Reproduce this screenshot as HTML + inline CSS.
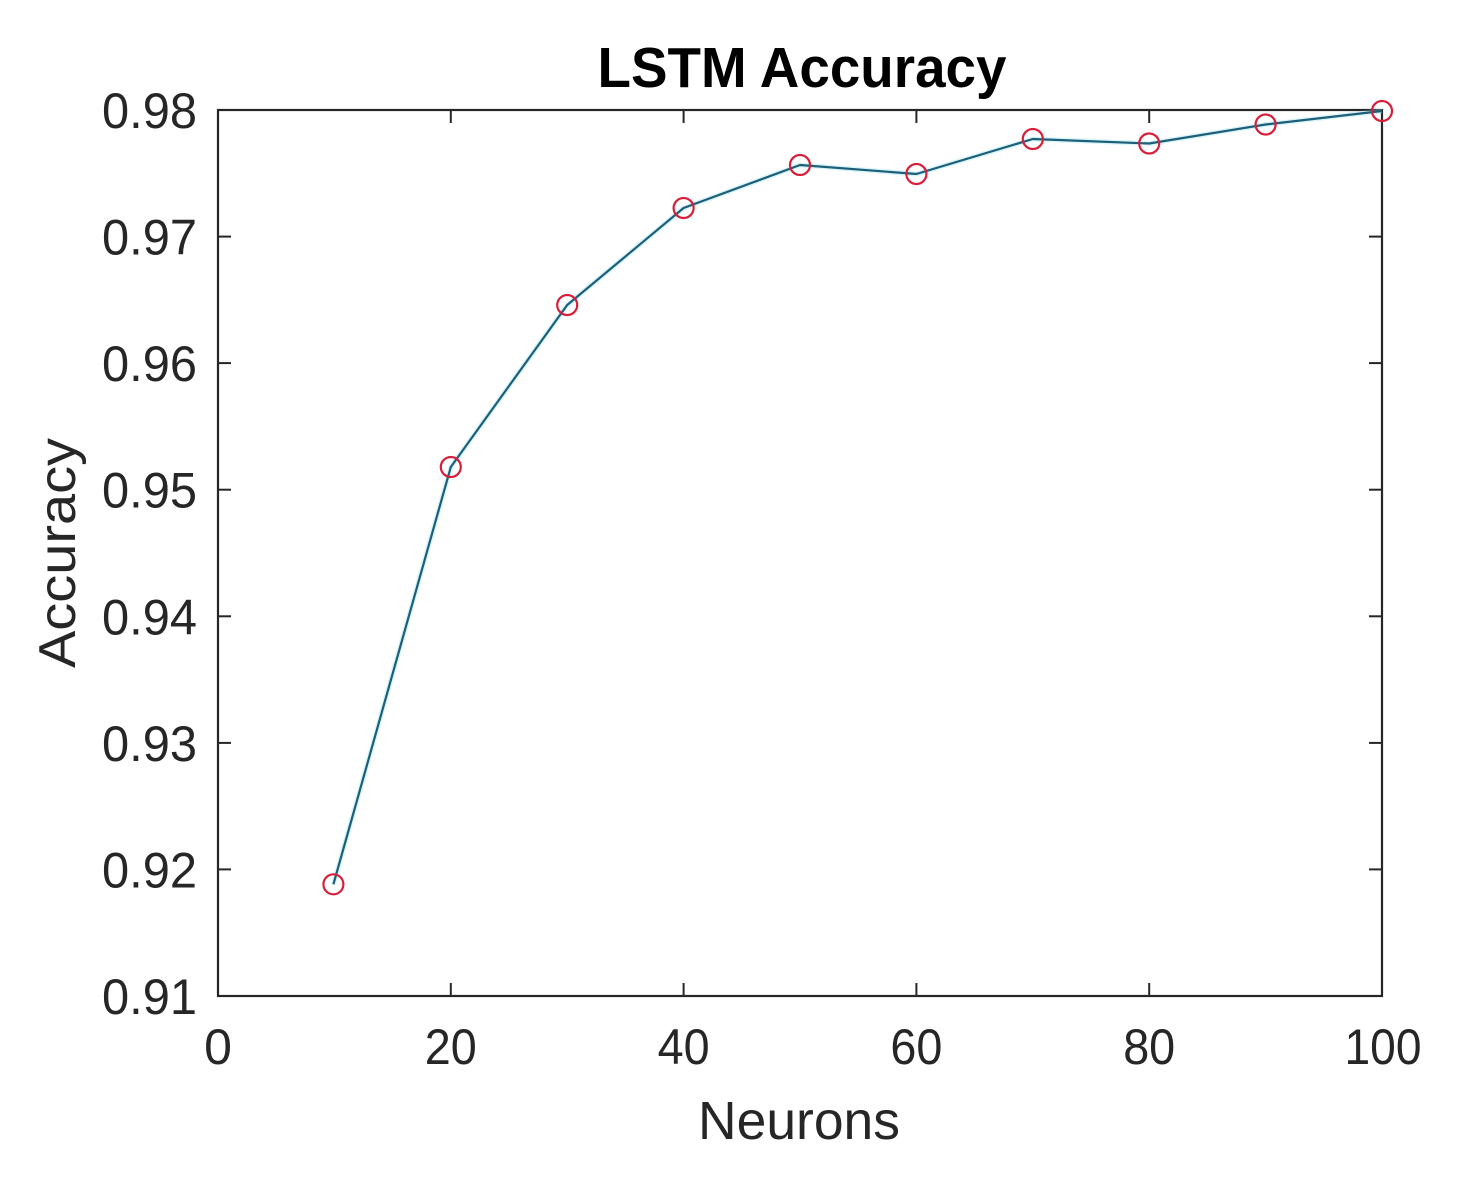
<!DOCTYPE html>
<html>
<head>
<meta charset="utf-8">
<style>
html,body{margin:0;padding:0;background:#fff;}
svg{display:block;}
text{font-family:"Liberation Sans",Arial,sans-serif;fill:#262626;}
</style>
</head>
<body>
<svg width="1468" height="1195" viewBox="0 0 1468 1195" xmlns="http://www.w3.org/2000/svg">
<rect x="0" y="0" width="1468" height="1195" fill="#fff"/>
<!-- axes box -->
<rect x="218" y="110" width="1164" height="886" fill="none" stroke="#262626" stroke-width="2.2"/>
<!-- ticks -->
<g stroke="#262626" stroke-width="2">
<line x1="450.8" y1="996" x2="450.8" y2="983"/><line x1="450.8" y1="110" x2="450.8" y2="123"/>
<line x1="683.6" y1="996" x2="683.6" y2="983"/><line x1="683.6" y1="110" x2="683.6" y2="123"/>
<line x1="916.4" y1="996" x2="916.4" y2="983"/><line x1="916.4" y1="110" x2="916.4" y2="123"/>
<line x1="1149.2" y1="996" x2="1149.2" y2="983"/><line x1="1149.2" y1="110" x2="1149.2" y2="123"/>
<line x1="218" y1="236.6" x2="231" y2="236.6"/><line x1="1382" y1="236.6" x2="1369" y2="236.6"/>
<line x1="218" y1="363.1" x2="231" y2="363.1"/><line x1="1382" y1="363.1" x2="1369" y2="363.1"/>
<line x1="218" y1="489.7" x2="231" y2="489.7"/><line x1="1382" y1="489.7" x2="1369" y2="489.7"/>
<line x1="218" y1="616.3" x2="231" y2="616.3"/><line x1="1382" y1="616.3" x2="1369" y2="616.3"/>
<line x1="218" y1="742.9" x2="231" y2="742.9"/><line x1="1382" y1="742.9" x2="1369" y2="742.9"/>
<line x1="218" y1="869.4" x2="231" y2="869.4"/><line x1="1382" y1="869.4" x2="1369" y2="869.4"/>
</g>
<!-- y tick labels -->
<g font-size="50" text-anchor="end">
<text x="197" y="128" textLength="95" lengthAdjust="spacingAndGlyphs">0.98</text>
<text x="197" y="254.6" textLength="95" lengthAdjust="spacingAndGlyphs">0.97</text>
<text x="197" y="381.1" textLength="95" lengthAdjust="spacingAndGlyphs">0.96</text>
<text x="197" y="507.7" textLength="95" lengthAdjust="spacingAndGlyphs">0.95</text>
<text x="197" y="634.3" textLength="95" lengthAdjust="spacingAndGlyphs">0.94</text>
<text x="197" y="760.9" textLength="95" lengthAdjust="spacingAndGlyphs">0.93</text>
<text x="197" y="887.4" textLength="95" lengthAdjust="spacingAndGlyphs">0.92</text>
<text x="197" y="1014" textLength="95" lengthAdjust="spacingAndGlyphs">0.91</text>
</g>
<!-- x tick labels -->
<g font-size="50" text-anchor="middle">
<text x="218" y="1064">0</text>
<text x="450.8" y="1064" textLength="52" lengthAdjust="spacingAndGlyphs">20</text>
<text x="683.6" y="1064" textLength="52" lengthAdjust="spacingAndGlyphs">40</text>
<text x="916.4" y="1064" textLength="52" lengthAdjust="spacingAndGlyphs">60</text>
<text x="1149.2" y="1064" textLength="52" lengthAdjust="spacingAndGlyphs">80</text>
<text x="1383" y="1064" textLength="77" lengthAdjust="spacingAndGlyphs">100</text>
</g>
<!-- axis labels -->
<text x="799" y="1139" font-size="54" text-anchor="middle" textLength="202" lengthAdjust="spacingAndGlyphs">Neurons</text>
<text transform="translate(75,553) rotate(-90)" x="0" y="0" font-size="52" text-anchor="middle" textLength="230" lengthAdjust="spacingAndGlyphs">Accuracy</text>
<!-- title -->
<text x="802" y="87" font-size="57" font-weight="bold" text-anchor="middle" fill="#000" style="fill:#000" textLength="409" lengthAdjust="spacingAndGlyphs">LSTM Accuracy</text>
<!-- series -->
<polyline fill="none" stroke="#8fe3f0" stroke-width="5" stroke-opacity="0.35" stroke-linejoin="round"
points="333.4,884.3 450.8,467 567.2,305 683.6,208 800,165 916.4,174 1032.8,139 1149.2,143.5 1265.6,124.5 1382,111"/>
<polyline fill="none" stroke="#1d5f78" stroke-width="2.2" stroke-linejoin="round"
points="333.4,884.3 450.8,467 567.2,305 683.6,208 800,165 916.4,174 1032.8,139 1149.2,143.5 1265.6,124.5 1382,111"/>
<g fill="none" stroke="#d81e38" stroke-width="2.2">
<circle cx="333.4" cy="884.3" r="10"/>
<circle cx="450.8" cy="467" r="10"/>
<circle cx="567.2" cy="305" r="10"/>
<circle cx="683.6" cy="208" r="10"/>
<circle cx="800" cy="165" r="10"/>
<circle cx="916.4" cy="174" r="10"/>
<circle cx="1032.8" cy="139" r="10"/>
<circle cx="1149.2" cy="143.5" r="10"/>
<circle cx="1265.6" cy="124.5" r="10"/>
<circle cx="1382" cy="111" r="10"/>
</g>
</svg>
</body>
</html>
